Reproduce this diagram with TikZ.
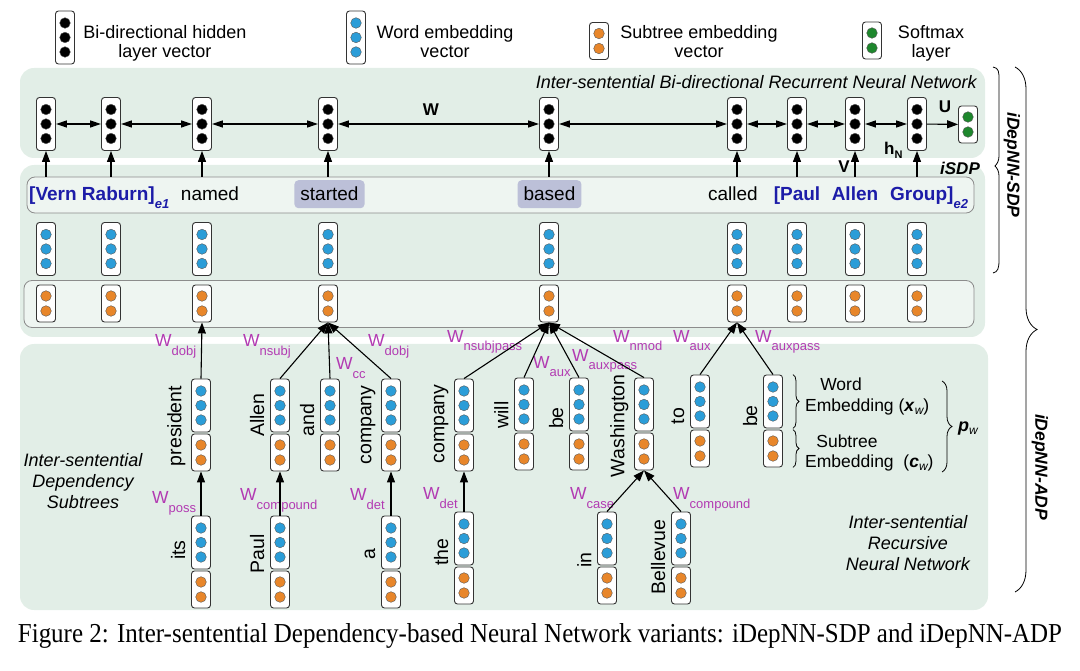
\documentclass[tikz,border=0pt]{standalone}
\usepackage{graphicx}
\usepackage{fontspec}
\setmainfont{Liberation Sans}
\newfontfamily\capfont{Liberation Serif}
\usepackage{tikz}
\usetikzlibrary{positioning}
\usetikzlibrary{arrows.meta,decorations.pathreplacing}
\pgfdeclarelayer{background}
\pgfsetlayers{background,main}

\definecolor{panelgreen}{RGB}{226,238,231}
\definecolor{rowgreen}{RGB}{238,245,241}
\definecolor{wordblue}{RGB}{43,157,216}
\definecolor{subtorange}{RGB}{232,134,42}
\definecolor{softgreen}{RGB}{30,135,45}
\definecolor{entblue}{RGB}{28,28,168}
\definecolor{wpurple}{RGB}{178,58,178}
\definecolor{hilite}{RGB}{188,192,216}

% three-dot and two-dot vectors: name, x, y, colour
\newcommand{\hvec}[4]{%
	\node[vecbox, minimum height=53pt] (#1) at (#2,#3) {};
	\foreach \dy in {-14.5,0,14.5} \filldraw[dotline, fill=#4] (#2,#3+\dy) circle (5.3pt);
}
\newcommand{\cvec}[4]{%
	\node[vecbox, minimum height=37pt] (#1) at (#2,#3) {};
	\foreach \dy in {-7.5,7.5} \filldraw[dotline, fill=#4] (#2,#3+\dy) circle (5.3pt);
}
% word + subtree embedding of a tree node: name, x, top
\newcommand{\tnode}[3]{\hvec{#1w}{#2}{#3+26.5}{wordblue}\cvec{#1c}{#2}{#3+73.5}{subtorange}}
\newcommand{\wsub}[1]{W\raisebox{-9pt}{\fontsize{13}{13}\selectfont #1}}

\begin{document}
\begin{tikzpicture}[x=1pt, y=-1pt,
	vecbox/.style={draw=black!80, line width=0.9pt, fill=white, rounded corners=3pt, minimum width=19pt, inner sep=0pt},
	dotline/.style={draw=black!65, line width=0.4pt},
	greenpanel/.style={fill=panelgreen, rounded corners=14pt},
	rowbox/.style={draw=black!45, fill=rowgreen, line width=0.8pt, rounded corners=8pt, inner sep=0pt},
	wordtext/.style={font=\fontsize{19}{22}\selectfont, inner sep=0pt, anchor=base},
	entity/.style={text=entblue, font=\fontsize{19}{22}\selectfont\bfseries, inner sep=0pt, anchor=base},
	hili/.style={wordtext, fill=hilite, rounded corners=4pt, inner xsep=6pt, minimum height=28pt},
	tlab/.style={rotate=90, anchor=south, inner sep=0pt, font=\fontsize{19.5}{22}\selectfont},
	wlab/.style={text=wpurple, font=\fontsize{17.5}{17}\selectfont, inner sep=0pt, anchor=base west},
	boldlab/.style={font=\fontsize{17}{17}\selectfont\bfseries, inner sep=0pt},
	sidelab/.style={font=\fontsize{17.5}{18}\selectfont\bfseries\itshape, inner sep=0pt, rotate=-90},
	legtext/.style={align=center, font=\fontsize{18}{19}\selectfont, inner sep=0pt, anchor=north},
	panelnote/.style={align=center, font=\fontsize{18}{21}\selectfont\itshape, inner sep=0pt},
	anntext/.style={font=\fontsize{17.5}{18}\selectfont, inner sep=0pt, anchor=base west},
	arr/.style={line width=1.1pt, -{Triangle[length=11pt,width=8pt]}},
	biarr/.style={line width=1.1pt, {Triangle[length=11pt,width=7pt]}-{Triangle[length=11pt,width=7pt]}},
	brc/.style={decorate, line width=0.8pt},
	]
	\useasboundingbox (0,0) rectangle (1080,671);
	
	\begin{pgfonlayer}{background}
	\fill[greenpanel] (20,68) rectangle (985,158);
	\fill[greenpanel] (20,165) rectangle (985,337);
	\fill[greenpanel] (20,344) rectangle (988,610);
	\end{pgfonlayer}
	
	%Legend
	\hvec{lh}{65}{37.5}{black}
	\hvec{lw}{356}{37.5}{wordblue}
	\cvec{lc}{599}{41}{subtorange}
	\cvec{ls}{872}{40.5}{softgreen}
	\node[legtext]	(lht)	at	(165,25)	{Bi-directional hidden\\layer vector};
	\node[legtext]	(lwt)	at	(445,25)	{Word embedding\\vector};
	\node[legtext]	(lct)	at	(699,25)	{Subtree embedding\\vector};
	\node[legtext]	(lst)	at	(931,25)	{Softmax\\layer};
	
	%Rows
	\node[rowbox, minimum width=947pt, minimum height=36pt]	(wordrow)	at	(500.5,195)	{};
	\node[rowbox, minimum width=950pt, minimum height=47pt]	(subrow)	at	(499,304)	{};
	\foreach \i/\x in {1/46,2/111,3/202,4/328,5/549,6/737,7/797,8/855,9/917}{
		\hvec{h\i}{\x}{124}{black}
		\hvec{w\i}{\x}{249}{wordblue}
		\cvec{c\i}{\x}{303.5}{subtorange}
	}
	\cvec{soft}{968}{124.5}{softgreen}
	
	\node[entity, anchor=base west]	(vern)	at	(29,201)	{[Vern Raburn]\raisebox{-8pt}{\fontsize{13}{13}\selectfont\itshape e1}};
	\node[wordtext]	(named)		at	(210,201)	{named};
	\node[hili]		(started)	at	(329.5,201)	{started};
	\node[hili]		(based)		at	(549.5,201)	{based};
	\node[wordtext]	(called)	at	(733,201)	{called};
	\node[entity]	(paulb)		at	(797,201)	{[Paul};
	\node[entity]	(allenb)	at	(855,201)	{Allen};
	\node[entity, anchor=base west]	(group)	at	(890,201)	{Group]\raisebox{-8pt}{\fontsize{13}{13}\selectfont\itshape e2}};
	
	\node[panelnote, anchor=east]	(rnntitle)	at	(977,82)	{Inter-sentential Bi-directional Recurrent Neural Network};
	\node[boldlab]	(wlabel)	at	(431,110)	{W};
	\node[boldlab]	(ulabel)	at	(945,107)	{U};
	\node[boldlab]	(vlabel)	at	(844,167)	{V};
	\node[boldlab, anchor=base west]	(hnlabel)	at	(884,155)	{h\raisebox{-4pt}{\fontsize{11}{11}\selectfont N}};
	\node[boldlab, font=\fontsize{17}{17}\selectfont\bfseries\itshape]	(isdp)	at	(960,168)	{iSDP};
	
	%Tree nodes
	\tnode{pres}{201}{379}
	\tnode{allen}{280}{379}
	\tnode{and}{330}{379}
	\tnode{compa}{391}{379}
	\tnode{compb}{464}{379}
	\tnode{will}{524}{378}
	\tnode{bea}{579}{378}
	\tnode{wash}{644}{378}
	\tnode{to}{700}{375}
	\tnode{beb}{773}{375}
	\tnode{its}{201}{516}
	\tnode{paul}{280}{516}
	\tnode{a}{391}{516}
	\tnode{the}{464}{512}
	\tnode{in}{607}{512}
	\tnode{bell}{681}{512}
	
	\node[tlab]	(lpres)	at	(185.5,426)	{president};
	\node[tlab]	(lallen)	at	(264.5,415)	{Allen};
	\node[tlab]	(land)	at	(314.5,420)	{and};
	\node[tlab]	(lcompa)	at	(375.5,425)	{company};
	\node[tlab]	(lcompb)	at	(448.5,424)	{company};
	\node[tlab]	(lwill)	at	(508.5,415)	{will};
	\node[tlab]	(lbea)	at	(563.5,418)	{be};
	\node[tlab]	(lwash)	at	(628.5,426)	{Washington};
	\node[tlab]	(lto)	at	(684.5,416)	{to};
	\node[tlab]	(lbeb)	at	(757.5,416)	{be};
	\node[tlab]	(lits)	at	(185.5,550)	{its};
	\node[tlab]	(lpaul)	at	(264.5,554)	{Paul};
	\node[tlab]	(la)	at	(375.5,554)	{a};
	\node[tlab]	(lthe)	at	(448.5,552)	{the};
	\node[tlab]	(lin)	at	(591.5,560)	{in};
	\node[tlab]	(lbell)	at	(665.5,557)	{Bellevue};
	
	%Edge labels
	\node[wlab]	(e1)	at	(155,347)	{\wsub{dobj}};
	\node[wlab]	(e2)	at	(152,503)	{\wsub{poss}};
	\node[wlab]	(e3)	at	(243,347)	{\wsub{nsubj}};
	\node[wlab]	(e4)	at	(336,370)	{\wsub{cc}};
	\node[wlab]	(e5)	at	(368,347)	{\wsub{dobj}};
	\node[wlab]	(e6)	at	(240,500)	{\wsub{compound}};
	\node[wlab]	(e7)	at	(350,500)	{\wsub{det}};
	\node[wlab]	(e8)	at	(423,499)	{\wsub{det}};
	\node[wlab]	(e9)	at	(447,342)	{\wsub{nsubjpass}};
	\node[wlab]	(e10)	at	(533,368)	{\wsub{aux}};
	\node[wlab]	(e11)	at	(572,361)	{\wsub{auxpass}};
	\node[wlab]	(e12)	at	(613,342)	{\wsub{nmod}};
	\node[wlab]	(e13)	at	(673,342)	{\wsub{aux}};
	\node[wlab]	(e14)	at	(755,342)	{\wsub{auxpass}};
	\node[wlab]	(e15)	at	(570,499)	{\wsub{case}};
	\node[wlab]	(e16)	at	(673,499)	{\wsub{compound}};
	
	\node[panelnote]	(deptitle)	at	(83,481)	{Inter-sentential\\Dependency\\Subtrees};
	\node[panelnote]	(rectitle)	at	(908,543)	{Inter-sentential\\Recursive\\Neural Network};
	
	%Embedding note
	\node[anntext, anchor=base]	(wordnote)	at	(841,390.5)	{Word};
	\node[anntext]	(xwnote)	at	(805,411)	{Embedding (\textbf{\textit{x}}\raisebox{-3pt}{\fontsize{12}{12}\selectfont\itshape w})};
	\node[anntext, anchor=base]	(subnote)	at	(847,447.5)	{Subtree};
	\node[anntext]	(cwnote)	at	(805,467.5)	{Embedding\ \ (\textbf{\textit{c}}\raisebox{-3pt}{\fontsize{12}{12}\selectfont\itshape w})};
	\node[anntext, font=\fontsize{18}{18}\selectfont\bfseries\itshape]	(pwnote)	at	(958,431)	{p\raisebox{-3pt}{\fontsize{12}{12}\selectfont\mdseries\itshape w}};
	\draw[brc, decoration={brace, amplitude=6pt}] ([xshift=10pt]bebw.north east) -- ([xshift=10pt]bebw.south east);
	\draw[brc, decoration={brace, amplitude=6pt}] ([xshift=10pt]bebc.north east) -- ([xshift=10pt]bebc.south east);
	\draw[brc, decoration={brace, amplitude=10pt}] (942,381) -- (942,472);
	
	%Side braces
	\draw[line width=0.8pt] (993,67) .. controls (999,68) and (999,72) .. (999,80) -- (999,156) .. controls (999,161) and (997,164) .. (995,166) .. controls (997,168) and (999,171) .. (999,176) -- (999,260) .. controls (999,268) and (998,272) .. (993,273);
	\draw[brc, decoration={brace, amplitude=22pt}] (1015,67) -- (1015,592);
	\node[sidelab]	(sdplab)	at	(1012,165)	{iDepNN-SDP};
	\node[sidelab]	(adplab)	at	(1040,467)	{iDepNN-ADP};
	
	%Caption
	\node[font=\capfont, inner sep=0pt, anchor=base]	(caption)	at	(540,642)	{\resizebox{1044pt}{19pt}{Figure 2: Inter-sentential Dependency-based Neural Network variants: iDepNN-SDP and iDepNN-ADP}};
	
	%Connectors
	\foreach \i/\j in {1/2,2/3,3/4,4/5,5/6,6/7,7/8,8/9} \draw[biarr] (h\i) -- (h\j);
	\draw[arr] (h9) -- (soft);
	\foreach \i in {1,...,9} \draw[arr] (wordrow.north -| h\i) -- (h\i.south);
	
	\draw[arr] (presw.north) -- (c3.south);
	\draw[arr] (itsw.north) -- (presc.south);
	\draw[arr] (allenw.north) -- (c4.south);
	\draw[arr] (andw.north) -- (c4.south);
	\draw[arr] (compaw.north) -- (c4.south);
	\draw[arr] (paulw.north) -- (allenc.south);
	\draw[arr] (aw.north) -- (compac.south);
	\draw[arr] (compbw.north) -- (c5.south);
	\draw[arr] (willw.north) -- (c5.south);
	\draw[arr] (beaw.north) -- (c5.south);
	\draw[arr] (washw.north) -- (c5.south);
	\draw[arr] (thew.north) -- (compbc.south);
	\draw[arr] (inw.north) -- (washc.south);
	\draw[arr] (bellw.north) -- (washc.south);
	\draw[arr] (tow.north) -- (c6.south);
	\draw[arr] (bebw.north) -- (c6.south);
\end{tikzpicture}
\end{document}
